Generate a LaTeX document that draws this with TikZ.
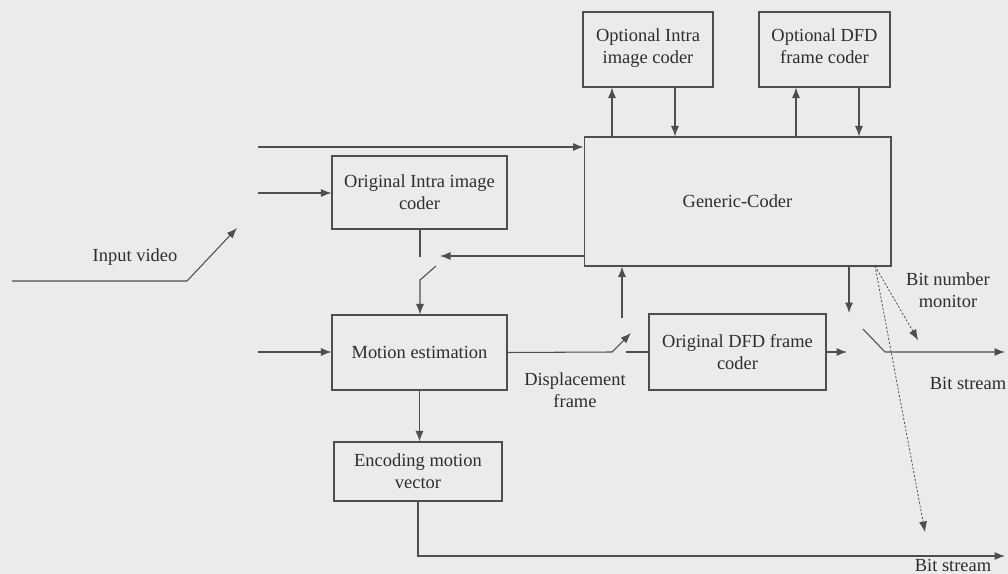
\documentclass[tikz,border=0pt]{standalone}
\usepackage{fontspec}
\setmainfont{Liberation Serif}
\usetikzlibrary{arrows.meta}
\definecolor{paper}{RGB}{235,235,235}
\definecolor{ink}{RGB}{78,78,78}
\definecolor{txt}{RGB}{45,45,45}
\begin{document}
\begin{tikzpicture}[x=0.02cm,y=-0.02cm,
  every node/.style={font=\fontsize{10.5}{12.5}\selectfont, text=txt},
  blk/.style={draw=ink, line width=0.6pt, align=center, inner sep=0pt},
  wire/.style={draw=ink, line width=0.6pt},
  arr/.style={wire, -{Latex[length=2.1mm,width=1.6mm]}},
  probe/.style={draw=ink, line width=0.45pt, dash pattern=on 1.2pt off 1pt,
                -{Latex[length=2.1mm,width=1.6mm,line width=0pt]}},
  lbl/.style={align=center, inner sep=0pt}]
  % canvas
  \fill[paper] (0,0) rectangle (1008,574);
  \useasboundingbox (0,0) rectangle (1008,574);

  % blocks
  \node[blk, minimum width=2.6cm,  minimum height=1.5cm]  (oic)  at (648,49.5)   {Optional Intra\\image coder\strut};
  \node[blk, minimum width=2.62cm, minimum height=1.5cm]  (odc)  at (824.5,49.5) {Optional DFD\\frame coder\strut};
  \node[blk, minimum width=6.14cm, minimum height=2.58cm] (gen)  at (737.5,201.5){Generic-Coder};
  \node[blk, minimum width=3.5cm,  minimum height=1.46cm] (oiic) at (419.5,192.5){Original Intra image\\coder};
  \node[blk, minimum width=3.5cm,  minimum height=1.5cm]  (me)   at (419.5,352.5){Motion estimation};
  \node[blk, minimum width=3.54cm, minimum height=1.52cm] (odfd) at (737.5,352)  {Original DFD frame\\coder};
  \node[blk, minimum width=3.36cm, minimum height=1.18cm] (emv)  at (418,471.5)  {Encoding motion\\vector};

  % free line ends
  \coordinate (inA) at (258,147);
  \coordinate (inB) at (258,193);
  \coordinate (inC) at (258,352);
  \coordinate (vidS) at (12,281);
  \coordinate (vidK) at (187,281);
  \coordinate (vidT) at (237,228);
  \coordinate (swAo) at (420,257);
  \coordinate (swAi) at (440,256);
  \coordinate (swAp) at (436,266);
  \coordinate (swAq) at (420,280);
  \coordinate (dspK) at (612,352);
  \coordinate (dspT) at (631,333);
  \coordinate (dspR) at (626,352);
  \coordinate (upB)  at (622,318);
  \coordinate (dfdT) at (847,352);
  \coordinate (genT) at (849,313);
  \coordinate (swBp) at (863,329);
  \coordinate (swBq) at (885,352);
  \coordinate (outA) at (1005,352);
  \coordinate (mon)  at (875,266);
  \coordinate (monA) at (918,340);
  \coordinate (monB) at (925,532);
  \coordinate (mvK)  at (418,556);
  \coordinate (outB) at (1005,556);

  % inputs
  \draw[arr] (inA) -- (inA -| gen.west);
  \draw[arr] (inB) -- (inB -| oiic.west);
  \draw[arr] (inC) -- (inC -| me.west);
  \draw[arr] (vidS) -- (vidK) -- (vidT);
  \node[lbl] (vid) at (135,257) {Input video};

  % intra / feedback switch into motion estimation
  \draw[wire] (oiic.south -| swAo) -- (swAo);
  \draw[arr] (swAi -| gen.west) -- (swAi);
  \draw[arr] (swAp) -- (swAq) -- (swAq |- me.north);

  % displacement frame switch
  \draw[arr] (me.east) -- (dspK) -- (dspT);
  \draw[wire] (dspR) -- (odfd.west);
  \draw[arr] (upB) -- (upB |- gen.south);
  \node[lbl] (dsp) at (575,390) {Displacement\\frame};

  % optional coders
  \draw[arr] (612,0 |- gen.north) -- (612,0 |- oic.south);
  \draw[arr] (675,0 |- oic.south) -- (675,0 |- gen.north);
  \draw[arr] (796,0 |- gen.north) -- (796,0 |- odc.south);
  \draw[arr] (859,0 |- odc.south) -- (859,0 |- gen.north);

  % output switch
  \draw[arr] (odfd.east) -- (dfdT);
  \draw[arr] (genT |- gen.south) -- (genT);
  \draw[arr] (swBp) -- (swBq) -- (outA);
  \node[lbl] (bsA) at (968,383) {Bit stream};

  % bit number monitor
  \draw[probe] (mon) -- (monA);
  \draw[probe] (mon) -- (monB);
  \node[lbl] (bnm) at (948,290) {Bit number\\monitor};

  % motion vector stream
  \draw[arr] (me.south) -- (me.south |- emv.north);
  \draw[arr] (emv.south) -- (mvK) -- (outB);
  \node[lbl] (bsB) at (953,565) {Bit stream};
\end{tikzpicture}
\end{document}
